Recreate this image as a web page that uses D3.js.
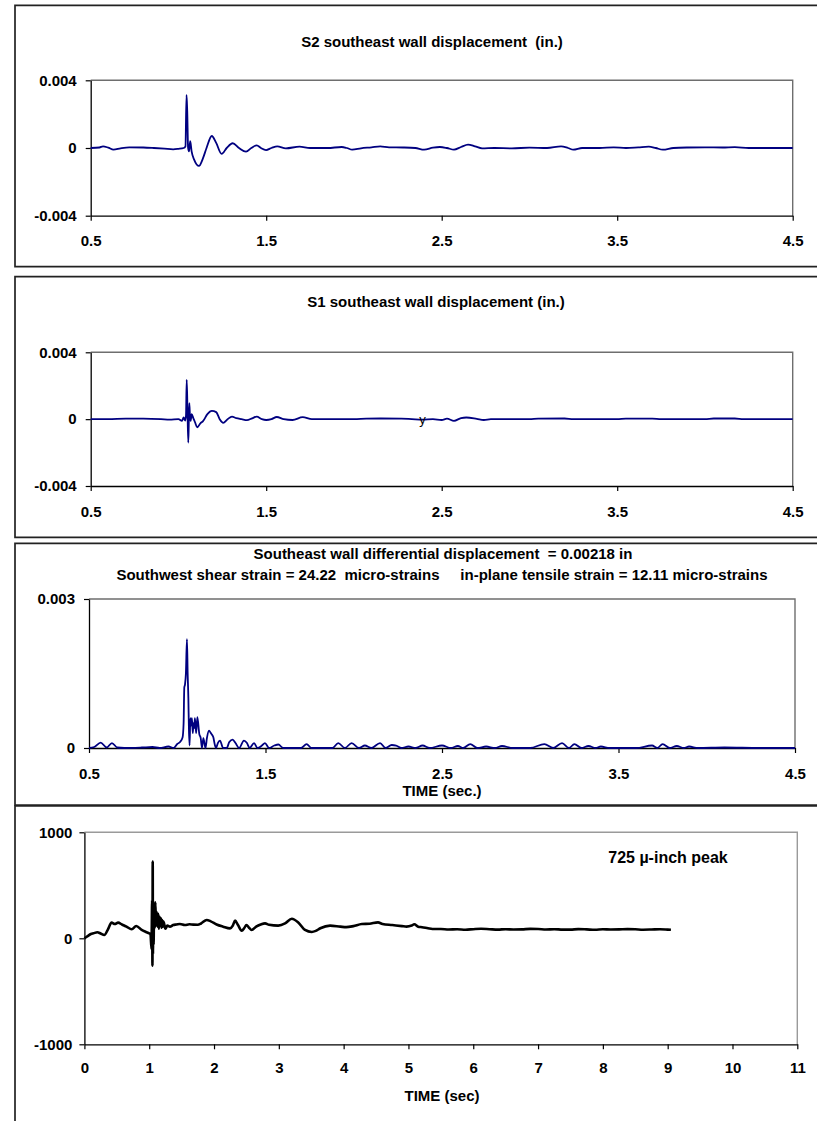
<!DOCTYPE html>
<html>
<head>
<meta charset="utf-8">
<script src="https://cdn.jsdelivr.net/npm/d3@7"></script>
<style>
  html, body { margin: 0; padding: 0; background: #fff; }
  svg { display: block; }
  text { font-family: "Liberation Sans", Arial, Helvetica, sans-serif; font-weight: bold; fill: #000; }
</style>
</head>
<body>
<svg id="chart" width="817" height="1121"></svg>
<script>
// ---- S2 southeast wall displacement (in.) ----
const s2Time = [0.50,0.55,0.57,0.60,0.63,0.67,0.72,0.80,0.86,0.92,0.97,1.00,1.03,1.040,1.046,1.050,1.055,1.060,1.067,1.075,1.09,1.117,1.14,1.16,1.19,1.215,1.246,1.275,1.309,1.345,1.385,1.415,1.446,1.47,1.499,1.53,1.563,1.612,1.69,1.75,1.85,1.93,1.96,1.99,2.04,2.10,2.15,2.20,2.28,2.35,2.40,2.45,2.49,2.53,2.57,2.61,2.65,2.69,2.73,2.80,2.90,3.00,3.10,3.18,3.22,3.25,3.30,3.40,3.48,3.55,3.62,3.68,3.72,3.76,3.82,3.90,4.00,4.10,4.17,4.25,4.35,4.45,4.50];
const s2Disp = [0,0.00003,0.0001,0.00002,-0.0001,-0.00002,0.00004,0.00003,0,-0.00004,-0.00008,-0.00005,0,0.0001,0.00313,0.0022,0,-0.0002,0.0004,-0.0002,-0.0007,-0.00106,-0.0006,0,0.00071,0.0003,-0.00035,0,0.00028,0,-0.00022,0,0.00016,0,-0.00012,0,0.0001,-0.00002,0.00008,0,0,0.00006,0,-0.0001,-0.00002,0.00004,0.0001,0.00004,0.00003,0,-0.0001,0.00002,0.00006,0,-0.0001,0.00006,0.0002,0.0001,-0.00002,0,-0.00002,0.00002,0,0.0001,0,-0.0001,0,0,0.00004,0,0.00004,0.00008,0,-0.0001,0,0.00003,0.00004,0.00003,0.00005,0,0,0,0];

// ---- S1 southeast wall displacement (in.) ----
const s1Time = [0.50,0.60,0.70,0.80,0.90,0.95,1.00,1.02,1.03,1.038,1.043,1.047,1.051,1.056,1.059,1.062,1.066,1.070,1.075,1.085,1.095,1.107,1.125,1.14,1.165,1.19,1.215,1.235,1.255,1.28,1.305,1.33,1.36,1.39,1.42,1.446,1.475,1.50,1.53,1.56,1.60,1.65,1.708,1.76,1.85,2.00,2.07,2.15,2.27,2.33,2.39,2.45,2.50,2.53,2.57,2.61,2.64,2.70,2.74,2.78,2.85,3.00,3.05,3.20,3.25,3.50,3.55,3.70,3.75,4.00,4.05,4.17,4.22,4.50];
const s1Disp = [0,0,0.00003,0.00003,0,-0.00003,0,-0.0001,0.0001,-0.00008,0.0002,0.00235,0.0008,-0.0014,-0.0002,0.00096,0.0001,-0.0001,0.0003,0.00005,-0.0002,-0.00049,-0.00025,-0.00012,0.0003,0.00049,0.00042,0,-0.00022,0,0.00015,0.00006,0,-0.00006,0.00005,0.00015,0,-0.00005,0,0.00013,0,-0.00005,0.00012,0,0,0,0.00003,0.00004,0.00003,0,-0.00003,0,-0.00005,0.00003,-0.0001,0.00006,0.0001,0.00002,-0.00005,0,0,0,0.00003,0.00004,0,0,0.00003,0.00003,0,0,0.00004,0.00004,0,0];

// ---- Southeast wall differential displacement (in.) ----
const diffTime = [0.50,0.53,0.566,0.60,0.63,0.66,0.70,0.80,0.86,0.90,0.95,0.98,1.00,1.016,1.03,1.036,1.040,1.044,1.049,1.055,1.059,1.063,1.066,1.070,1.074,1.078,1.083,1.088,1.092,1.096,1.100,1.107,1.114,1.125,1.133,1.140,1.148,1.16,1.168,1.18,1.19,1.204,1.214,1.22,1.23,1.242,1.26,1.28,1.295,1.314,1.33,1.35,1.378,1.395,1.41,1.435,1.455,1.48,1.497,1.52,1.55,1.573,1.60,1.70,1.733,1.76,1.88,1.912,1.95,1.988,2.03,2.063,2.10,2.149,2.18,2.215,2.24,2.27,2.31,2.35,2.39,2.43,2.50,2.55,2.59,2.62,2.66,2.70,2.75,2.80,2.84,2.90,3.00,3.08,3.13,3.18,3.22,3.25,3.29,3.33,3.37,3.40,3.45,3.60,3.69,3.72,3.75,3.79,3.83,3.87,3.90,3.95,4.10,4.30,4.50];
const diffDisp = [0,0.00002,0.00011,0.00001,0.0001,0.00001,0,0.00001,0.00002,0,0.00003,0,0.00008,0.00012,0.00021,0.0005,0.00122,0.00128,0.0015,0.00219,0.0015,0.001,0.0004,0.00005,0.0006,0.00045,0.0006,0.0003,0.0005,0.0004,0.0006,0.0003,0.00062,0.00028,0.0002,0,0.0002,0,0.0002,0.00035,0.0003,0.00022,0.00005,0,0.0001,0.00015,0,0,0.00012,0.00017,0.0001,0,0.00015,0.0001,0,0.0001,0,0.00005,0.0001,0,0.00005,0.00007,0,0,0.00008,0,0,0.0001,0,0.0001,0,0.00005,0,0.0001,0,0.00006,0.00005,0,0.00003,0,0.00005,0,0.00005,0,0.00004,0,0.00008,0,0.00003,0,0.00004,0,0,0.00008,0,0.0001,0,0.00008,0,0.00004,0,0.00003,0,0,0.00005,0,0.00008,0,0.00004,0,0.00003,0,0.00001,0,0];

// ---- Gauge record (micro-inch) ----
const gaugeTime = [0.00,0.05,0.10,0.14,0.20,0.25,0.307,0.36,0.42,0.47,0.52,0.58,0.65,0.73,0.80,0.884,0.95,1.00,1.02,1.035,1.045,1.050,1.054,1.058,1.062,1.068,1.075,1.085,1.095,1.105,1.115,1.13,1.14,1.15,1.16,1.17,1.18,1.19,1.20,1.21,1.22,1.25,1.28,1.32,1.37,1.42,1.475,1.55,1.62,1.68,1.75,1.80,1.887,1.95,2.04,2.14,2.247,2.29,2.324,2.37,2.427,2.47,2.50,2.54,2.58,2.65,2.72,2.787,2.85,2.99,3.096,3.20,3.30,3.404,3.508,3.57,3.64,3.79,3.95,4.04,4.15,4.28,4.40,4.53,4.60,4.75,4.90,4.97,5.05,5.09,5.15,5.21,5.30,5.37,5.50,5.62,5.75,5.88,6.00,6.12,6.25,6.38,6.50,6.62,6.75,6.88,7.00,7.12,7.25,7.38,7.50,7.62,7.75,7.88,8.00,8.12,8.25,8.38,8.50,8.62,8.75,8.88,9.00,9.05];
const gaugeMicro = [0,20,40,47,57,45,31,80,148,135,148,130,110,85,116,79,60,47,40,-100,360,-258,725,-150,330,-60,300,100,340,120,251,110,230,90,204,120,190,100,173,110,157,90,120,110,125,130,135,125,132,129,128,140,173,160,130,110,94,120,167,125,72,100,126,100,79,110,130,141,128,120,140,185,150,79,60,70,95,120,110,105,115,135,138,150,135,125,115,110,120,132,110,105,95,88,88,83,86,81,86,90,86,82,86,83,84,89,88,83,86,82,82,87,84,80,86,83,84,87,85,81,83,86,82,80];

// ---- Axis ticks and labels ----
const shortTimeTicks = [0.5, 1.5, 2.5, 3.5, 4.5];
const dispTicks = [-0.004, 0, 0.004];
const diffTicks = [0, 0.003];
const longTimeTicks = [0, 1, 2, 3, 4, 5, 6, 7, 8, 9, 10, 11];
const gaugeTicks = [-1000, 0, 1000];

const titleS2 = "S2 southeast wall displacement  (in.)";
const titleS1 = "S1 southeast wall displacement (in.)";
const titleDiff1 = "Southeast wall differential displacement  = 0.00218 in";
const titleDiff2 = "Southwest shear strain = 24.22  micro-strains     in-plane tensile strain = 12.11 micro-strains";
const timeLabelSec = "TIME (sec.)";
const timeLabelGauge = "TIME (sec)";
const peakNote = "725 \u00b5-inch peak";

const W = 817, H = 1121;
const svg = d3.select("#chart");
const FONT = 15;
const fmt = d => (d === 0 ? "0" : String(d));

function drawFrame(top, bottom, openBottom) {
  let d = `M${W + 10},${top}H15V${bottom}`;
  if (!openBottom) d += `H${W + 10}`;
  svg.append("path").attr("d", d)
    .attr("fill", "none").attr("stroke", "#222").attr("stroke-width", 1.7);
}

function drawPanel(p) {
  const g = svg.append("g");
  const x = d3.scaleLinear().domain(p.xDomain).range([p.left, p.right]);
  const y = d3.scaleLinear().domain(p.yDomain).range([p.bottom, p.top]);

  // top and right edges of the plot area
  g.append("path")
    .attr("d", `M${p.left},${p.top}H${p.right}V${p.bottom}`)
    .attr("fill", "none").attr("stroke", p.edgeColor).attr("stroke-width", 1.4);

  const xAxis = g.append("g")
    .attr("transform", `translate(0,${p.bottom})`)
    .call(d3.axisBottom(x).tickValues(p.xTicks).tickFormat(fmt)
      .tickSize(5).tickSizeOuter(0).tickPadding(p.xPad));
  const yAxis = g.append("g")
    .attr("transform", `translate(${p.left},0)`)
    .call(d3.axisLeft(y).tickValues(p.yTicks).tickFormat(fmt)
      .tickSize(5).tickSizeOuter(0).tickPadding(p.yPad));

  [xAxis, yAxis].forEach(a => {
    a.attr("font-family", null).attr("font-size", null);
    a.selectAll("path.domain").attr("stroke", "#000").attr("stroke-width", 1.3);
    a.selectAll(".tick line").attr("stroke", "#000").attr("stroke-width", 1.2);
    a.selectAll(".tick text").style("font-size", FONT + "px").attr("fill", "#000");
  });

  const line = d3.line()
    .x(d => x(d[0]))
    .y(d => y(d[1]))
    .curve(d3.curveMonotoneX);

  g.append("path")
    .datum(d3.zip(p.times, p.values))
    .attr("d", line)
    .attr("fill", "none")
    .attr("stroke", p.color)
    .attr("stroke-width", p.width)
    .attr("stroke-linejoin", "round");

  return { x, y };
}

function title(text, cx, cy) {
  svg.append("text")
    .attr("x", cx).attr("y", cy).attr("dy", "0.35em")
    .attr("text-anchor", "middle")
    .style("white-space", "pre")
    .style("font-size", FONT + "px")
    .text(text);
}

// Panel 1: S2
drawFrame(5.3, 266.7);
drawPanel({
  xDomain: [0.5, 4.5], yDomain: [-0.004, 0.004],
  left: 90.7, right: 792.7, top: 80.3, bottom: 215.7,
  xTicks: shortTimeTicks, yTicks: dispTicks, xPad: 15, yPad: 9,
  edgeColor: "#6e6e6e", times: s2Time, values: s2Disp, color: "#000080", width: 1.8
});
title(titleS2, 432, 41.5);

// Panel 2: S1
drawFrame(276.7, 537.3);
const p2 = drawPanel({
  xDomain: [0.5, 4.5], yDomain: [-0.004, 0.004],
  left: 90.7, right: 792.7, top: 352.3, bottom: 486,
  xTicks: shortTimeTicks, yTicks: dispTicks, xPad: 15, yPad: 9,
  edgeColor: "#6e6e6e", times: s1Time, values: s1Disp, color: "#000080", width: 1.8
});
title(titleS1, 436, 301.5);
svg.append("text")
  .attr("x", p2.x(2.39)).attr("y", p2.y(0) + 5)
  .attr("text-anchor", "middle")
  .style("font-weight", "normal").style("font-size", "13px")
  .attr("fill", "#333")
  .text("y");

// Panel 3: differential displacement
drawFrame(543.3, 805);
const p3 = drawPanel({
  xDomain: [0.5, 4.5], yDomain: [0, 0.003],
  left: 89, right: 795, top: 599, bottom: 748,
  xTicks: shortTimeTicks, yTicks: diffTicks, xPad: 15, yPad: 9,
  edgeColor: "#6e6e6e", times: diffTime, values: diffDisp, color: "#000080", width: 1.8
});
title(titleDiff1, 443, 554);
title(titleDiff2, 442, 575);
svg.append("text")
  .attr("x", (p3.x(0.5) + p3.x(4.5)) / 2).attr("y", 791).attr("dy", "0.35em")
  .attr("text-anchor", "middle").style("font-size", FONT + "px")
  .text(timeLabelSec);

// Panel 4: gauge record
drawFrame(805.8, H + 10, true);
drawPanel({
  xDomain: [0, 11], yDomain: [-1000, 1000],
  left: 84.4, right: 797.3, top: 832.3, bottom: 1044.3,
  xTicks: longTimeTicks, yTicks: gaugeTicks, xPad: 13.5, yPad: 7,
  edgeColor: "#9a9a9a", times: gaugeTime, values: gaugeMicro, color: "#000", width: 2.6
});
svg.append("text")
  .attr("x", 442).attr("y", 1096).attr("dy", "0.35em")
  .attr("text-anchor", "middle").style("font-size", FONT + "px")
  .text(timeLabelGauge);
svg.append("text")
  .attr("x", 668).attr("y", 857).attr("dy", "0.35em")
  .attr("text-anchor", "middle").style("font-size", "16px")
  .text(peakNote);
</script>
</body>
</html>
